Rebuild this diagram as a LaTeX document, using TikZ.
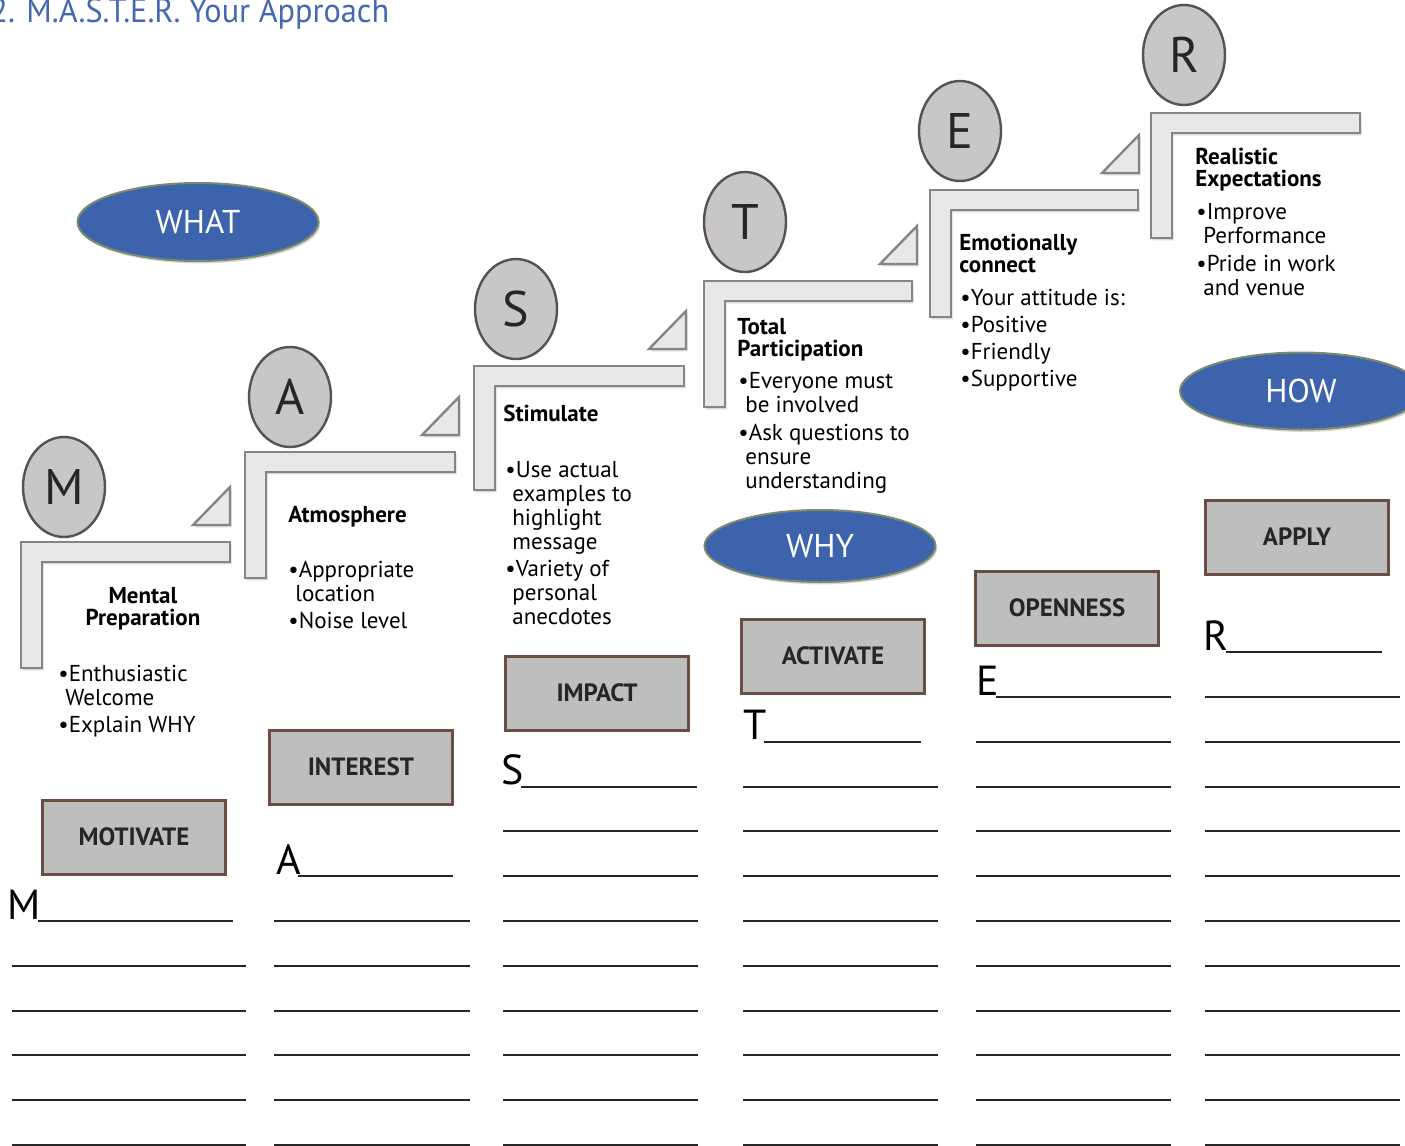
\documentclass[tikz,border=0pt]{standalone}
\usepackage{fontspec}
\setmainfont{PT Sans}
\usetikzlibrary{shapes.geometric, shadows}
\definecolor{stepfill}{HTML}{E7E8E8}
\definecolor{stepline}{HTML}{858585}
\definecolor{headfill}{HTML}{C8C6C6}
\definecolor{headline}{HTML}{575252}
\definecolor{ovalblue}{HTML}{3E63AD}
\definecolor{ovalline}{HTML}{7C8A6C}
\definecolor{boxfill}{HTML}{BEBEBE}
\definecolor{boxline}{HTML}{6A4D43}
\definecolor{titleblue}{HTML}{4468B2}
\tikzset {
    x=0.5pt, y=-0.5pt,
    soft shadow/.style={drop shadow={shadow xshift=0.8pt, shadow yshift=-1.2pt, opacity=0.3}},
    stepbar/.style={fill=stepfill, draw=stepline, line width=1.2pt, soft shadow},
    riser/.style={fill=stepfill, draw=stepline, line width=1.2pt, soft shadow},
    head/.style={ellipse, fill=headfill, draw=headline, line width=1.2pt, minimum width=41pt,
        minimum height=50pt, inner sep=0pt, text=black!85, font=\fontsize{25}{25}\selectfont},
    heading/.style={anchor=north west, align=left, inner sep=0pt, font=\bfseries\fontsize{11.5}{11}\selectfont},
    points/.style={anchor=north west, align=left, inner sep=0pt, font=\fontsize{11.5}{12}\selectfont},
    oval/.style={ellipse, fill=ovalblue, draw=ovalline, line width=1pt, text=white, inner sep=0pt,
        font=\fontsize{16.5}{16.5}\selectfont, soft shadow},
    action/.style={rectangle, fill=boxfill, draw=boxline, line width=1.5pt, minimum width=91.5pt,
        minimum height=37pt, text=black!85, font=\bfseries\fontsize{12.5}{12.5}\selectfont, soft shadow},
    letter/.style={anchor=base east, inner sep=0pt, font=\fontsize{21}{21}\selectfont},
    blank/.style={line width=1pt, black!85}
}
\begin{document}
\begin{tikzpicture}
    \clip (0,0) rectangle (1405,1146);
    \fill[white] (0,0) rectangle (1405,1146);

    \node[anchor=base west, inner sep=0pt, text=titleblue, font=\fontsize{17}{17}\selectfont] (title)
        at (-10,22) {\scalebox{0.95}[1]{2. M.A.S.T.E.R. Your Approach}};

    % steps
    \foreach \x/\y/\xr/\yb in {21/542/230/668, 245/452/455/578, 474/366/684/490,
                               704/281/912/407, 930/190/1138/317, 1151/113/1360/238}
        \draw[stepbar] (\x,\y) -- (\xr,\y) -- (\xr,\y+20) -- (\x+21,\y+20) -- (\x+21,\yb) -- (\x,\yb) -- cycle;
    \foreach \xr/\y in {230/542, 459/452, 686/366, 917/281, 1139/190}
        \draw[riser] (\xr-37,\y-17) -- (\xr,\y-55) -- (\xr,\y-17) -- cycle;

    \node[head] (m) at (64,487) {M};
    \node[head] (a) at (290,397) {A};
    \node[head] (s) at (516,309) {S};
    \node[head] (t) at (745,222) {T};
    \node[head] (e) at (960,131) {E};
    \node[head] (r) at (1184,55) {R};

    % step texts
    \node[heading, anchor=north, align=center] (m-head) at (143,587) {Mental\\Preparation};
    \node[points] (m-list) at (58,665) {\textbullet Enthusiastic\\\hspace*{3.5pt}Welcome\\[1.5pt]\textbullet Explain WHY};
    \node[heading] (a-head) at (288,506) {Atmosphere};
    \node[points] (a-list) at (288,561) {\textbullet Appropriate\\\hspace*{3.5pt}location\\[1.5pt]\textbullet Noise level};
    \node[heading] (s-head) at (503,405) {Stimulate};
    \node[points] (s-list) at (505,461) {\textbullet Use actual\\\hspace*{3.5pt}examples to\\\hspace*{3.5pt}highlight\\\hspace*{3.5pt}message\\[1.5pt]\textbullet Variety of\\\hspace*{3.5pt}personal\\\hspace*{3.5pt}anecdotes};
    \node[heading] (t-head) at (737,318) {Total\\Participation};
    \node[points] (t-list) at (738,372) {\textbullet Everyone must\\\hspace*{3.5pt}be involved\\[2pt]\textbullet Ask questions to\\\hspace*{3.5pt}ensure\\\hspace*{3.5pt}understanding};
    \node[heading] (e-head) at (959,234) {Emotionally\\connect};
    \node[points] (e-list) at (960,289) {\textbullet Your attitude is:\\[1.5pt]\textbullet Positive\\[1.5pt]\textbullet Friendly\\[1.5pt]\textbullet Supportive};
    \node[heading] (r-head) at (1195,148) {Realistic\\Expectations};
    \node[points] (r-list) at (1196,203) {\textbullet Improve\\\hspace*{3.5pt}Performance\\[2pt]\textbullet Pride in work\\\hspace*{3.5pt}and venue};

    % what, why, how
    \node[oval, minimum width=120.5pt, minimum height=39pt] (what) at (198,222) {WHAT};
    \node[oval, minimum width=115.5pt, minimum height=36pt] (why) at (820,546) {WHY};
    \node[oval, minimum width=121pt, minimum height=38.5pt] (how) at (1301,391) {HOW};

    \node[action] (motivate) at (134,837) {MOTIVATE};
    \node[action] (interest) at (361,767) {INTEREST};
    \node[action] (impact) at (597,693) {IMPACT};
    \node[action] (activate) at (833,656) {ACTIVATE};
    \node[action] (openness) at (1067,608) {OPENNESS};
    \node[action] (apply) at (1297,537) {APPLY};

    % writing lines
    \foreach \ltr/\lx/\lxe/\cx/\cxe/\n in {M/38/233/12/246/5, A/298/453/274/470/6, S/521/697/503/698/8,
                                           T/764/921/743/938/9, E/996/1171/976/1171/10, R/1226/1382/1205/1400/11} {
        \node[letter] (line-\ltr) at (\lx+3,{1145-44.8*\n-2}) {\ltr};
        \draw[blank] (\lx,{1145-44.8*\n}) -- (\lxe,{1145-44.8*\n});
        \foreach \k in {1,...,\n}
            \draw[blank] (\cx,{1145-44.8*(\k-1)}) -- (\cxe,{1145-44.8*(\k-1)});
    }
\end{tikzpicture}
\end{document}
